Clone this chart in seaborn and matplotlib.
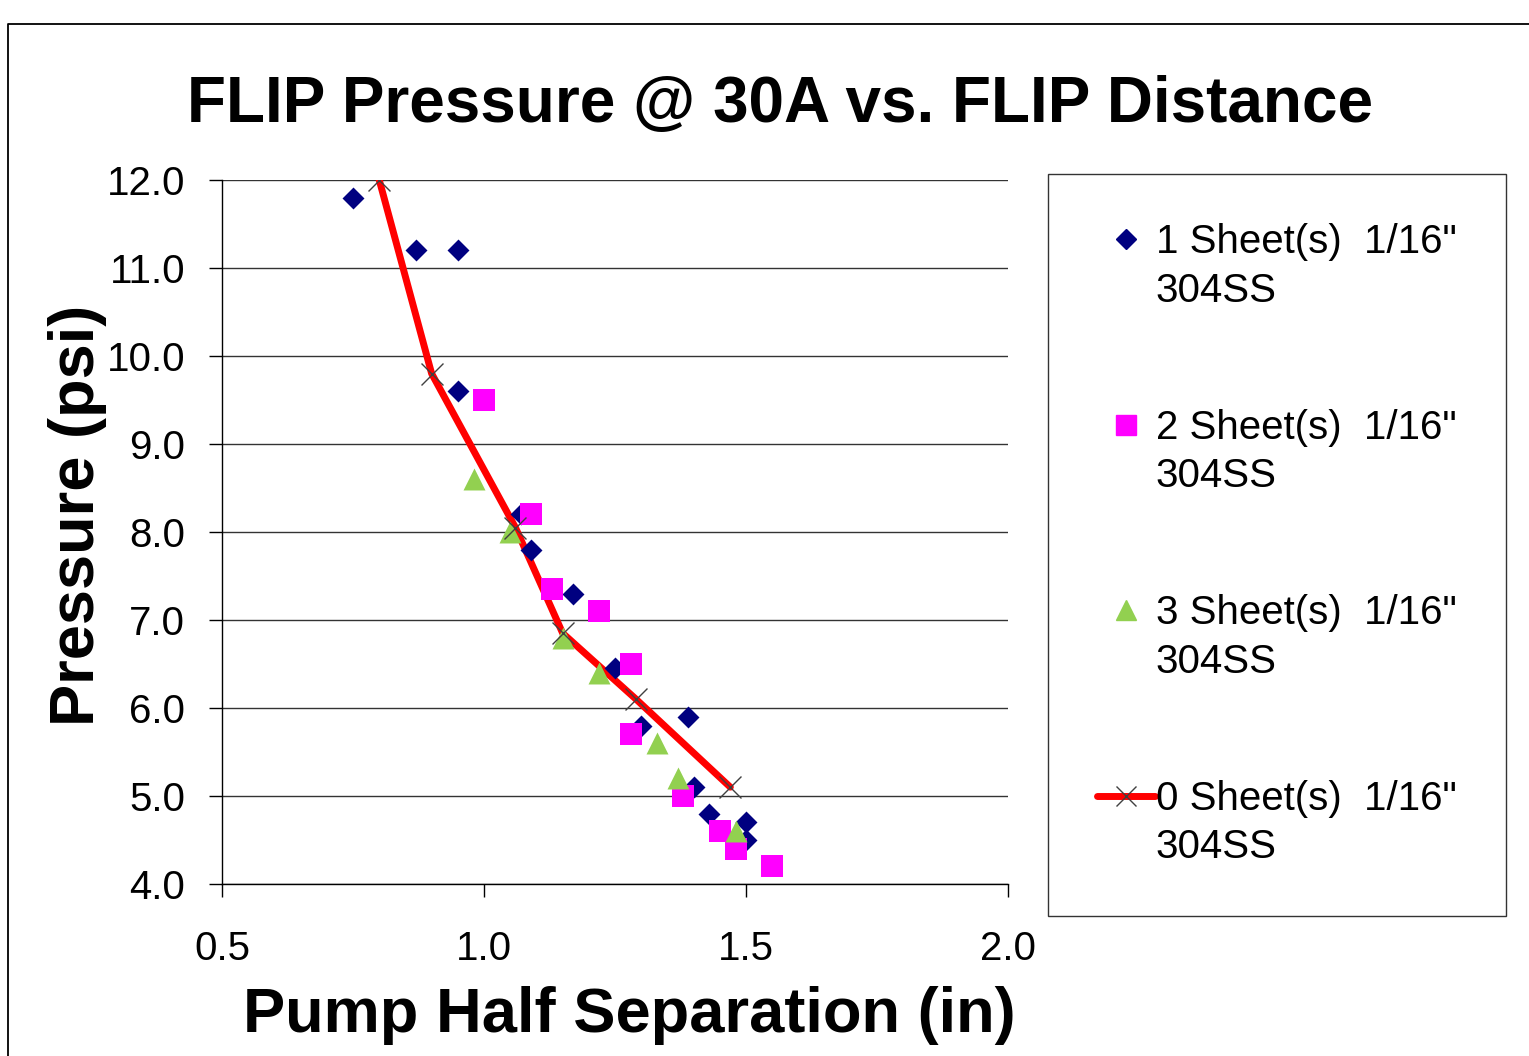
import numpy as np
import pandas as pd
import matplotlib
matplotlib.use("Agg")
import matplotlib.pyplot as plt
from matplotlib.lines import Line2D
from matplotlib.legend_handler import HandlerLine2D
import seaborn as sns

# data
x_1sheet = [0.75, 0.87, 0.95, 0.95, 1.07, 1.09, 1.17, 1.25, 1.30, 1.39, 1.40, 1.43, 1.50, 1.50]
y_1sheet = [11.8, 11.2, 11.2, 9.6, 8.2, 7.8, 7.3, 6.45, 5.8, 5.9, 5.1, 4.8, 4.7, 4.5]

x_2sheet = [1.00, 1.09, 1.13, 1.22, 1.28, 1.28, 1.38, 1.45, 1.48, 1.55]
y_2sheet = [9.5, 8.2, 7.35, 7.1, 6.5, 5.7, 5.0, 4.6, 4.4, 4.2]

x_3sheet = [0.98, 1.05, 1.15, 1.22, 1.33, 1.37, 1.48]
y_3sheet = [8.6, 8.0, 6.8, 6.4, 5.6, 5.2, 4.6]

x_0sheet = [0.80, 0.90, 1.06, 1.15, 1.29, 1.47]
y_0sheet = [12.0, 9.8, 8.05, 6.85, 6.1, 5.1]

labels = ['1 Sheet(s)  1/16"\n304SS', '2 Sheet(s)  1/16"\n304SS',
          '3 Sheet(s)  1/16"\n304SS', '0 Sheet(s)  1/16"\n304SS']
x_ticks = [0.5, 1.0, 1.5, 2.0]
y_ticks = [4.0, 5.0, 6.0, 7.0, 8.0, 9.0, 10.0, 11.0, 12.0]

navy = '#000080'
magenta = '#FF00FF'
green = '#92D050'
red = '#FF0000'

sns.set_theme(style="white")
plt.rcParams['font.family'] = ['Liberation Sans', 'DejaVu Sans']
plt.rcParams['text.color'] = 'black'
plt.rcParams['axes.labelcolor'] = 'black'

fig = plt.figure(figsize=(15.29, 10.56), dpi=100)
ax = fig.add_axes([0.1452, 0.1629, 0.5141, 0.6667])

df1 = pd.DataFrame({'x': x_1sheet, 'y': y_1sheet})
df2 = pd.DataFrame({'x': x_2sheet, 'y': y_2sheet})
df3 = pd.DataFrame({'x': x_3sheet, 'y': y_3sheet})
df0 = pd.DataFrame({'x': x_0sheet, 'y': y_0sheet})

# red line below the markers, x markers on top
sns.lineplot(data=df0, x='x', y='y', sort=False, color=red, lw=5, ax=ax,
             zorder=2, legend=False)
sns.scatterplot(data=df1, x='x', y='y', marker='D', color=navy, s=125,
                linewidth=0, ax=ax, zorder=3, legend=False)
sns.scatterplot(data=df2, x='x', y='y', marker='s', color=magenta, s=250,
                linewidth=0, ax=ax, zorder=3, legend=False)
sns.scatterplot(data=df3, x='x', y='y', marker='^', color=green, s=250,
                linewidth=0, ax=ax, zorder=3, legend=False)
sns.scatterplot(data=df0, x='x', y='y', marker='x', color='#404040', s=250,
                linewidth=1, ax=ax, zorder=4, legend=False)

ax.set_xlim(0.5, 2.0)
ax.set_ylim(4.0, 12.0)
ax.set_xticks(x_ticks)
ax.set_xticklabels([f'{v:.1f}' for v in x_ticks])
ax.set_yticks(y_ticks)
ax.set_yticklabels([f'{v:.1f}' for v in y_ticks])
ax.tick_params(axis='both', direction='out', length=9.4, width=1,
               color='black', labelsize=29, labelcolor='black')
ax.tick_params(axis='y', pad=17, left=True)
ax.tick_params(axis='x', pad=24, bottom=True)
ax.yaxis.grid(True, color='#333333', lw=1.0)
ax.xaxis.grid(False)
ax.set_axisbelow(True)
for side in ['top', 'right']:
    ax.spines[side].set_visible(False)
for side in ['left', 'bottom']:
    ax.spines[side].set_color('black')
    ax.spines[side].set_linewidth(1.0)

ax.set_xlabel('Pump Half Separation (in)', fontsize=45.5, fontweight='bold')
ax.set_ylabel('Pressure (psi)', fontsize=45.5, fontweight='bold')
ax.xaxis.set_label_coords(0.518, -0.145)
ax.yaxis.set_label_coords(-0.146, 0.523)

fig.text(0.510, 1 - 122 / 1056, 'FLIP Pressure @ 30A vs. FLIP Distance',
         fontsize=46, fontweight='bold', ha='center', va='baseline', color='black')

# outer chart border (left and top edges visible)
fig.add_artist(Line2D([8 / 1529, 8 / 1529, 1.01], [-0.01, 1 - 24 / 1056, 1 - 24 / 1056],
                      transform=fig.transFigure, color='black', lw=1.3))


class FirstLineHandler(HandlerLine2D):
    # put the handle next to the first line of a two-line label
    def create_artists(self, legend, orig_handle, xdescent, ydescent,
                       width, height, fontsize, trans):
        arts = super().create_artists(legend, orig_handle, xdescent, ydescent,
                                      width, height, fontsize, trans)
        for a in arts:
            a.set_ydata(np.asarray(a.get_ydata()) + 0.70 * fontsize)
        return arts


handles = [
    Line2D([], [], ls='none', marker='D', color=navy, ms=10),
    Line2D([], [], ls='none', marker='s', color=magenta, ms=14),
    Line2D([], [], ls='none', marker='^', color=green, ms=14),
    Line2D([], [], color=red, lw=5, marker='x', mec='#404040', ms=15, mew=1),
]
leg = ax.legend(handles, labels, loc='upper left',
                bbox_to_anchor=(1048 / 1529, 1 - 174 / 1056),
                bbox_transform=fig.transFigure, fontsize=29,
                frameon=True, fancybox=False, edgecolor='black',
                borderpad=1.22, labelspacing=2.45, handlelength=1.44,
                handletextpad=0.02, borderaxespad=0,
                handler_map={Line2D: FirstLineHandler()})
leg.get_frame().set_linewidth(1.0)
for t in leg.get_texts():
    t.set_linespacing(1.36)
    t.set_color('black')

fig.savefig('out.png', dpi=100)
